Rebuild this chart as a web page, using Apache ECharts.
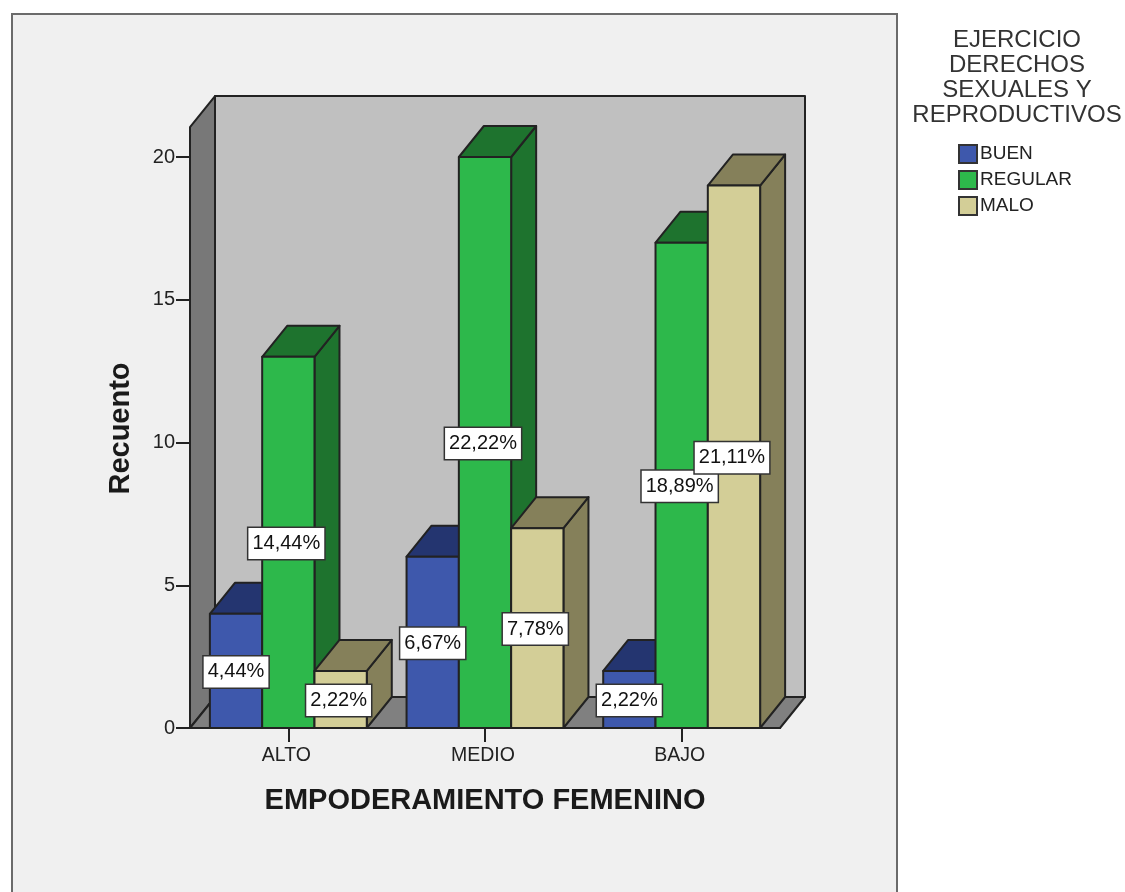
<!DOCTYPE html>
<html>
<head>
<meta charset="utf-8">
<style>html,body{margin:0;padding:0;background:#fff}#c{width:1125px;height:892px}</style>
<script src="https://cdn.jsdelivr.net/npm/echarts@6/dist/echarts.min.js"></script>
</head>
<body>
<div id="c"></div>
<script>
var categories = ['ALTO', 'MEDIO', 'BAJO'];
var seriesNames = ['BUEN', 'REGULAR', 'MALO'];
var buen = [4, 6, 2];
var regular = [13, 20, 17];
var malo = [2, 7, 19];
var buenLabels = ['4,44%', '6,67%', '2,22%'];
var regularLabels = ['14,44%', '22,22%', '18,89%'];
var maloLabels = ['2,22%', '7,78%', '21,11%'];
var yTicksMax = 20;

var FONT = '"Liberation Sans", Arial, sans-serif';
var INK = '#222222';
var DX = 25, DY = 31, BAR = 52.3;
var LABEL_NUDGE = [0, -2, -2];
var FRONT = ['#3e58ac', '#2db84b', '#d3ce97'];
var TOP = ['#243570', '#1e732e', '#85805a'];
var SIDE = ['#243570', '#1e732e', '#85805a'];

function poly(pts, fill, w) {
  return { type: 'polygon', shape: { points: pts },
    style: { fill: fill, stroke: INK, lineWidth: w || 2, lineJoin: 'round' } };
}
function renderWalls(params, api) {
  var s = params.coordSys;
  var L = s.x, R = s.x + s.width, B = s.y + s.height;
  var T = api.coord([0, 21.05])[1];
  return { type: 'group', children: [
    poly([[L + DX, T - DY], [R + DX, T - DY], [R + DX, B - DY], [L + DX, B - DY]], '#c0c0c0'),
    poly([[L, T], [L + DX, T - DY], [L + DX, B - DY], [L, B]], '#787878'),
    poly([[L, B], [L + DX, B - DY], [R + DX, B - DY], [R, B]], '#808080')
  ] };
}
function barRender(idx) {
  return function (params, api) {
    var p = api.coord([api.value(0), api.value(1)]);
    var b = api.coord([api.value(0), 0]);
    var x0 = p[0] + (idx - 1.5) * BAR, x1 = x0 + BAR, y0 = p[1], y1 = b[1];
    return { type: 'group', children: [
      poly([[x1, y0], [x1 + DX, y0 - DY], [x1 + DX, y1 - DY], [x1, y1]], SIDE[idx]),
      poly([[x0, y0], [x0 + DX, y0 - DY], [x1 + DX, y0 - DY], [x1, y0]], TOP[idx]),
      poly([[x0, y0], [x1, y0], [x1, y1], [x0, y1]], FRONT[idx])
    ] };
  };
}
function labelRender(idx, texts) {
  return function (params, api) {
    var p = api.coord([api.value(0), api.value(1) / 2]);
    return { type: 'text', x: p[0] + (idx - 1) * BAR + LABEL_NUDGE[idx], y: p[1] + 1,
      style: { text: texts[params.dataIndex], font: '20px ' + FONT, fill: '#111',
        align: 'center', verticalAlign: 'middle',
        backgroundColor: '#ffffff', borderColor: '#333333', borderWidth: 1.5,
        padding: [6, 4, 5, 4] } };
  };
}
function pairs(vals) { return vals.map(function (v, i) { return [i, v]; }); }

var valueSets = [buen, regular, malo];
var labelSets = [buenLabels, regularLabels, maloLabels];
var series = [{
  type: 'custom', name: 'paredes', renderItem: renderWalls, data: [[0, 0]], silent: true, z: 1,
  encode: { x: 0, y: 1 }
}];
seriesNames.forEach(function (n, i) {
  series.push({ type: 'custom', name: n, renderItem: barRender(i), data: pairs(valueSets[i]),
    encode: { x: 0, y: 1 }, z: 2 + i,
    itemStyle: { color: FRONT[i], borderColor: '#333', borderWidth: 2 } });
});
seriesNames.forEach(function (n, i) {
  series.push({ type: 'custom', name: n + ' %', renderItem: labelRender(i, labelSets[i]), data: pairs(valueSets[i]),
    encode: { x: 0, y: 1 }, z: 10 });
});

var chart = echarts.init(document.getElementById('c'), null, { renderer: 'canvas' });
chart.setOption({
  animation: false,
  backgroundColor: '#ffffff',
  graphic: [{ type: 'rect', z: -10, silent: true, shape: { x: 12, y: 14, width: 885, height: 900 },
    style: { fill: '#f0f0f0', stroke: '#6b6b6b', lineWidth: 2 } }],
  title: { text: 'EJERCICIO\nDERECHOS\nSEXUALES Y\nREPRODUCTIVOS', left: 1012, top: 23, textAlign: 'center',
    textStyle: { fontFamily: FONT, fontSize: 24, fontWeight: 'normal', color: '#333', lineHeight: 25 } },
  legend: { data: seriesNames, orient: 'vertical', left: 958, top: 144, padding: 0, itemWidth: 18, itemHeight: 18, itemGap: 6,
    icon: 'rect', textStyle: { fontFamily: FONT, fontSize: 19, color: '#222', padding: [1, 0, 0, -2] } },
  grid: { left: 190, top: 157, width: 590, height: 571, containLabel: false },
  xAxis: { type: 'category', data: categories, boundaryGap: true,
    name: 'EMPODERAMIENTO FEMENINO', nameLocation: 'middle', nameGap: 58,
    nameTextStyle: { fontFamily: FONT, fontSize: 29, fontWeight: 'bold', color: '#1a1a1a' },
    axisLine: { lineStyle: { color: INK, width: 2 } },
    axisTick: { show: true, alignWithLabel: true, length: 14, lineStyle: { color: INK, width: 2 } },
    axisLabel: { fontFamily: FONT, fontSize: 19.5, color: '#222', margin: 18, padding: [0, 4, 0, 0] } },
  yAxis: { type: 'value', min: 0, max: yTicksMax, interval: 5,
    name: 'Recuento', nameLocation: 'middle', nameGap: 55, nameRotate: 90,
    nameTextStyle: { fontFamily: FONT, fontSize: 29, fontWeight: 'bold', color: '#1a1a1a', padding: [0, 0, 0, 28] },
    splitLine: { show: false },
    axisLine: { show: false },
    axisTick: { show: true, length: 14, lineStyle: { color: INK, width: 2 } },
    axisLabel: { fontFamily: FONT, fontSize: 20, color: '#222', margin: 15 } },
  series: series
});
</script>
</body>
</html>
